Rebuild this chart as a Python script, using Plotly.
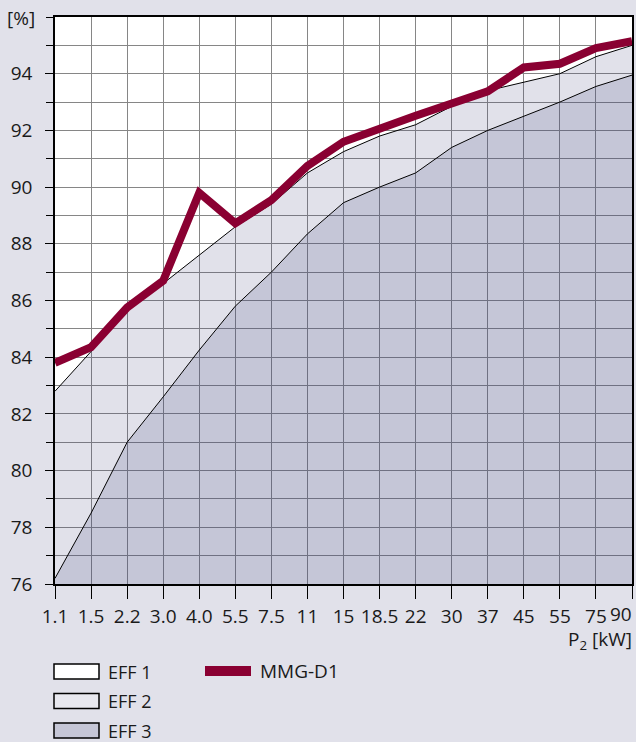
import plotly.graph_objects as go

# ---------------- data ----------------
power_kw = ["1.1", "1.5", "2.2", "3.0", "4.0", "5.5", "7.5", "11", "15", "18.5",
            "22", "30", "37", "45", "55", "75", "90"]
eff2_limit = [82.8, 84.2, 85.7, 86.6, 87.6, 88.6, 89.4, 90.5, 91.25, 91.8,
              92.2, 92.85, 93.4, 93.7, 94.0, 94.6, 95.0]
eff3_limit = [76.2, 78.5, 81.0, 82.6, 84.25, 85.8, 87.0, 88.35, 89.45, 90.0,
              90.5, 91.4, 92.0, 92.5, 93.0, 93.55, 93.95]
mmg_d1 = [83.8, 84.35, 85.75, 86.7, 89.8, 88.72, 89.54, 90.75, 91.6, 92.08,
          92.52, 92.95, 93.38, 94.22, 94.35, 94.9, 95.15]
y_tick_vals = [76, 78, 80, 82, 84, 86, 88, 90, 92, 94]

# ---------------- style ----------------
W, H = 636, 742
ML, MR, MT, MB = 55, 4, 17, 158
BG = "#e1e1ea"
GRID = "#868686"
MMG_COLOR = "#8a0032"
FONT = "Open Sans"
TXT = "#1a1a1a"

PW = W - ML - MR
PH = H - MT - MB


def px_x(px):
    return (px - ML) / PW


def px_y(py):
    return (H - MB - py) / PH


# the last x label sits flush with the right edge in the reference:
# it is drawn as an annotation at the plot's right edge (= last category)
x_tick_vals = power_kw[:-1]

fig = go.Figure()

fig.add_trace(go.Scatter(
    x=power_kw, y=eff3_limit, mode="lines", fill="tozeroy",
    fillcolor="rgba(62,65,122,0.30)", line=dict(color="black", width=1),
    name="EFF 3", showlegend=False, hoverinfo="skip"))
fig.add_trace(go.Scatter(
    x=power_kw, y=eff2_limit, mode="lines", fill="tonexty",
    fillcolor="rgba(55,55,115,0.15)", line=dict(color="black", width=1),
    name="EFF 2", showlegend=False, hoverinfo="skip"))
fig.add_trace(go.Scatter(
    x=power_kw, y=mmg_d1, mode="lines",
    line=dict(color=MMG_COLOR, width=8), name="MMG-D1", showlegend=False))

fig.update_xaxes(
    type="category", categoryorder="array", categoryarray=power_kw,
    tickmode="array", tickvals=x_tick_vals, ticktext=x_tick_vals,
    range=[0, len(power_kw) - 1], automargin=False,
    showgrid=True, gridcolor=GRID, gridwidth=1.2,
    showline=True, linecolor="black", linewidth=1.5, mirror=True,
    ticks="outside", ticklen=13, tickcolor="black", tickwidth=1,
    tickfont=dict(family=FONT, size=19, color=TXT),
    ticklabelstandoff=1, zeroline=False,
    minor=dict(tickmode="array", tickvals=power_kw[-1:], ticks="outside", ticklen=13,
               tickcolor="black", tickwidth=1, showgrid=False),
)
fig.update_yaxes(
    range=[76, 96], tickmode="array", tickvals=y_tick_vals,
    ticktext=[str(v) for v in y_tick_vals], automargin=False,
    showgrid=True, gridcolor=GRID, gridwidth=1.2,
    showline=True, linecolor="black", linewidth=1.5, mirror=True,
    ticks="outside", ticklen=8, tickcolor="black", tickwidth=1,
    tickfont=dict(family=FONT, size=19, color=TXT),
    ticklabelstandoff=9, zeroline=False,
    minor=dict(tick0=76, dtick=1, ticks="outside", ticklen=7,
               tickcolor="black", tickwidth=1,
               showgrid=True, gridcolor=GRID, gridwidth=1.2),
)

annotations = [
    dict(text="[%]", xref="paper", yref="paper", x=px_x(37), y=px_y(18),
         xanchor="right", yanchor="middle", showarrow=False,
         font=dict(family=FONT, size=19, color=TXT)),
    dict(text="P<sub>2</sub> [kW]", xref="paper", yref="paper", x=px_x(634), y=px_y(640),
         xanchor="right", yanchor="middle", showarrow=False,
         font=dict(family=FONT, size=19, color=TXT)),
    dict(text=power_kw[-1], xref="paper", yref="paper", x=1, y=px_y(614),
         xanchor="right", yanchor="middle", xshift=2, showarrow=False,
         font=dict(family=FONT, size=19, color=TXT)),
]
shapes = []

legend_boxes = [("EFF 1", "white", 671.5), ("EFF 2", "#e8e8ef", 701), ("EFF 3", "#c5c6d6", 730.5)]
for label, color, cy in legend_boxes:
    shapes.append(dict(type="rect", xref="paper", yref="paper",
                       x0=px_x(54), x1=px_x(99), y0=px_y(cy - 7.5), y1=px_y(cy + 7.5),
                       fillcolor=color, line=dict(color="black", width=1.5)))
    annotations.append(dict(text=label, xref="paper", yref="paper", x=px_x(106), y=px_y(cy),
                            xanchor="left", yanchor="middle", showarrow=False,
                            font=dict(family=FONT, size=18, color=TXT)))

shapes.append(dict(type="line", xref="paper", yref="paper",
                   x0=px_x(205), x1=px_x(251), y0=px_y(671), y1=px_y(671),
                   line=dict(color=MMG_COLOR, width=10)))
annotations.append(dict(text="MMG-D1", xref="paper", yref="paper", x=px_x(258), y=px_y(671),
                        xanchor="left", yanchor="middle", showarrow=False,
                        font=dict(family=FONT, size=19, color=TXT)))

fig.update_layout(
    width=W, height=H,
    margin=dict(l=ML, r=MR, t=MT, b=MB, pad=0, autoexpand=False),
    paper_bgcolor=BG, plot_bgcolor="white",
    showlegend=False,
    annotations=annotations, shapes=shapes,
    font=dict(family=FONT, color=TXT),
)

fig.write_html(
    "out.html",
    config={"displayModeBar": False},
    post_script="document.body.style.margin='0';document.body.style.padding='0';"
                "document.body.style.overflow='hidden';",
)
